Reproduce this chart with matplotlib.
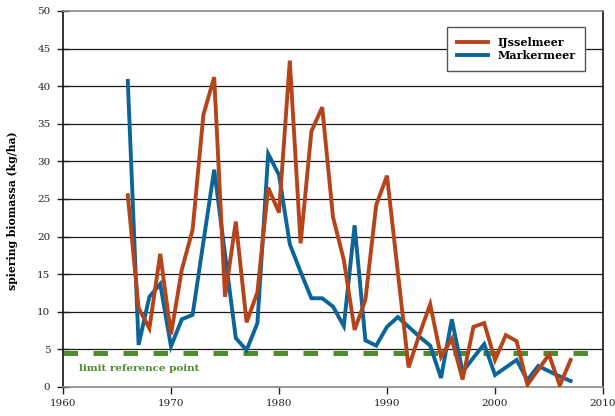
import matplotlib
matplotlib.use("Agg")
import matplotlib.pyplot as plt

years = list(range(1966, 2008))
ijsselmeer = [25.5, 10.5, 7.8, 17.7, 7.0, 15.6, 20.9, 36.2, 41.2, 12.0,
              22.0, 8.6, 12.6, 26.5, 23.2, 43.4, 19.1, 34.0, 37.2, 22.6,
              16.9, 7.6, 11.6, 24.2, 28.1, 15.3, 2.6, 7.0, 11.0, 4.0,
              6.4, 1.0, 8.0, 8.5, 3.6, 6.9, 6.1, 0.3, 2.3, 4.3,
              0.2, 3.6]
markermeer = [40.7, 5.6, 12.0, 13.7, 5.4, 9.0, 9.6, 19.3, 28.9, 17.7,
              6.5, 4.9, 8.5, 31.0, 28.2, 19.0, 15.3, 11.8, 11.8, 10.7,
              8.1, 21.5, 6.2, 5.5, 8.0, 9.3, 8.0, 6.7, 5.5, 1.2,
              9.0, 2.0, 3.9, 5.7, 1.6, 2.6, 3.6, 0.9, 2.8, 2.1,
              1.4, 0.8]
limit_value = 4.5
limit_label = "limit reference point"
series_names = ["IJsselmeer", "Markermeer"]
ylabel = "spiering biomassa (kg/ha)"
xticks = [1960, 1970, 1980, 1990, 2000, 2010]
yticks = list(range(0, 55, 5))

ORANGE = "#b6441a"
BLUE = "#0b6598"
GREEN = "#4d8b2b"
FONT = "DejaVu Serif"

fig = plt.figure(figsize=(6.15, 4.16), dpi=100)
ax = fig.add_axes([63/615, 1-387/416, 540/615, 376/416])

for y in yticks[1:-1]:
    ax.axhline(y, color="#1a1a1a", lw=0.9, zorder=1)

ax.axhline(limit_value, color=GREEN, lw=3.6, dashes=(2.9, 3.1),
           dash_capstyle="butt", zorder=2, clip_on=False)

ax.plot(years, ijsselmeer, color=ORANGE, lw=2.8, label=series_names[0], zorder=4,
        solid_joinstyle="miter")
ax.plot(years, markermeer, color=BLUE, lw=2.8, label=series_names[1], zorder=3,
        solid_joinstyle="miter")

ax.text(1961.5, 2.4, limit_label, color=GREEN, fontsize=7.5, fontweight="bold",
        family=FONT, va="center", ha="left")

ax.set_xlim(1960, 2010)
ax.set_ylim(0, 50)
ax.set_xticks(xticks)
ax.set_yticks(yticks)
ax.tick_params(axis="x", direction="out", length=5, width=1, colors="#222222",
               labelsize=7.5, pad=4)
ax.tick_params(axis="y", direction="inout", length=8, width=1, colors="#222222",
               labelsize=7.5, pad=5)
for lab in ax.get_xticklabels() + ax.get_yticklabels():
    lab.set_family(FONT)
    lab.set_color("#222222")

for s in ["left", "right"]:
    ax.spines[s].set_color("#111111")
    ax.spines[s].set_linewidth(1.2)
for s in ["top", "bottom"]:
    ax.spines[s].set_color("#888888")
    ax.spines[s].set_linewidth(1.2)

ax.set_ylabel(ylabel, fontsize=7.8, fontweight="bold", family=FONT)
ax.yaxis.set_label_coords(-0.083, 0.47)

leg = ax.legend(loc="upper right", bbox_to_anchor=(0.967, 0.957), frameon=True,
                fancybox=False, edgecolor="#555555", framealpha=1,
                prop={"family": FONT, "weight": "bold", "size": 8},
                handlelength=2.8, handletextpad=0.8, borderpad=0.9,
                labelspacing=0.15, borderaxespad=0)
leg.get_frame().set_linewidth(1.0)
leg.set_zorder(10)

fig.savefig("out.png", dpi=100)
